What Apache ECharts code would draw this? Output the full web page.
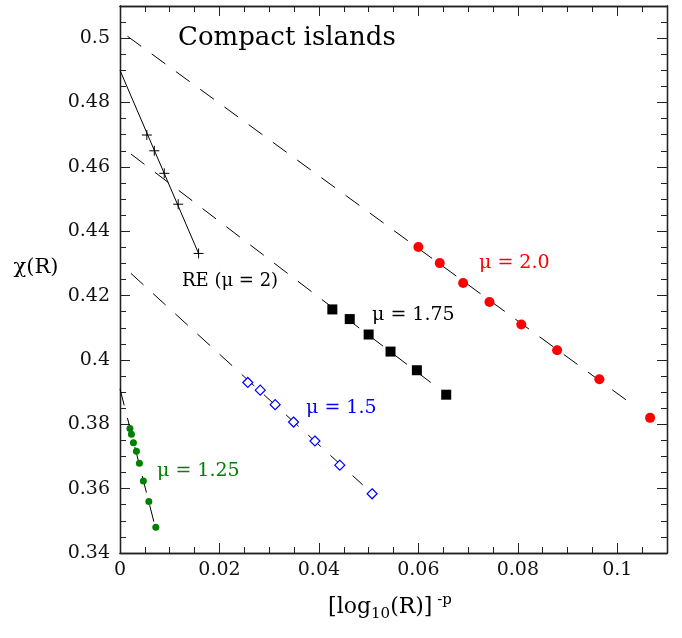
<!DOCTYPE html>
<html>
<head>
<meta charset="utf-8">
<script src="https://cdn.jsdelivr.net/npm/echarts@6/dist/echarts.min.js"></script>
<style>
  html, body { margin: 0; padding: 0; background: #fff; }
  #chart { width: 682px; height: 638px; }
</style>
</head>
<body>
<div id="chart"></div>
<script>
// points
var redX = [0.0600, 0.0643, 0.0690, 0.0743, 0.0807, 0.0879, 0.0964, 0.1066];
var redY = [0.4351, 0.4301, 0.4239, 0.4180, 0.4110, 0.4030, 0.3940, 0.3820];
var blackX = [0.0427, 0.0462, 0.0500, 0.0544, 0.0597, 0.0656];
var blackY = [0.4157, 0.4127, 0.4079, 0.4026, 0.3968, 0.3892];
var blueX = [0.0257, 0.0282, 0.0312, 0.0349, 0.0392, 0.0442, 0.0507];
var blueY = [0.3930, 0.3906, 0.3861, 0.3807, 0.3748, 0.3673, 0.3584];
var greenX = [0.0020, 0.0023, 0.0027, 0.0033, 0.0039, 0.0047, 0.0058, 0.0072];
var greenY = [0.3787, 0.3769, 0.3743, 0.3716, 0.3679, 0.3624, 0.3560, 0.3480];
var reX = [0.0054, 0.0069, 0.0089, 0.0117, 0.0158];
var reY = [0.4699, 0.4650, 0.4580, 0.4484, 0.4331];

// fitted lines, start and end
var fitRed = [[0.0015, 0.5006], [0.103, 0.3862]];
var fit175 = [[0.0022, 0.4640], [0.0635, 0.3918]];
var fit15 = [[0.0022, 0.4269], [0.0488, 0.3612]];
var fit125 = [[0, 0.3910], [0.0071, 0.3480]];
var fitRE = [[0, 0.4900], [0.0158, 0.4331]];

var xMin = 0, xMax = 0.11, yMin = 0.34, yMax = 0.51;

var FONT = '"DejaVu Serif", serif';

function pairs(xs, ys) {
    var out = [];
    for (var i = 0; i < xs.length; i++) out.push([xs[i], ys[i]]);
    return out;
}

// one axis of the box: main (labels, long ticks) or minor (short ticks)
function xAx(pos, step, len, labels) {
    return {
        type: 'value', position: pos, min: xMin, max: xMax, interval: step,
        axisLine: { show: true, onZero: false, lineStyle: { color: '#222', width: 1.3 } },
        axisTick: { show: true, inside: true, length: len, lineStyle: { color: '#222', width: 1 } },
        axisLabel: { show: labels, showMaxLabel: false, margin: 8, color: '#111', fontSize: 19, fontFamily: FONT },
        splitLine: { show: false }
    };
}
function yAx(pos, step, len, labels) {
    return {
        type: 'value', position: pos, min: yMin, max: yMax, interval: step,
        axisLine: { show: true, onZero: false, lineStyle: { color: '#222', width: 1.3 } },
        axisTick: { show: true, inside: true, length: len, lineStyle: { color: '#222', width: 1 } },
        axisLabel: { show: labels, showMaxLabel: false, margin: 10, color: '#111', fontSize: 19, fontFamily: FONT },
        splitLine: { show: false }
    };
}

function fitLine(d, dashed) {
    return {
        type: 'line', data: d, symbol: 'none', z: 2, silent: true,
        lineStyle: { color: '#000', width: 1, type: dashed ? [17, 13] : 'solid' }
    };
}

function dots(d, symbol, size, style) {
    style.opacity = 1;
    return {
        type: 'scatter', data: d, symbol: symbol, symbolSize: size, z: 5,
        itemStyle: style
    };
}

var myChart = echarts.init(document.getElementById('chart'));

var option = {
    animation: false,
    backgroundColor: '#fff',
    grid: { left: 120, right: 15, top: 6, bottom: 85 },
    xAxis: [
        xAx('bottom', 0.02, 10, true),
        xAx('bottom', 0.005, 6, false),
        xAx('top', 0.02, 10, false),
        xAx('top', 0.005, 6, false)
    ],
    yAxis: [
        yAx('left', 0.02, 10, true),
        yAx('left', 0.005, 6, false),
        yAx('right', 0.02, 10, false),
        yAx('right', 0.005, 6, false)
    ],
    series: [
        fitLine(fitRed, true),
        fitLine(fit175, true),
        fitLine(fit15, true),
        fitLine(fit125, true),
        fitLine(fitRE, false),
        dots(pairs(redX, redY), 'circle', 10, { color: '#ff0000' }),
        dots(pairs(blackX, blackY), 'rect', 10, { color: '#000' }),
        dots(pairs(blueX, blueY), 'diamond', 10, { color: '#fff', borderColor: '#0000ff', borderWidth: 1.2 }),
        dots(pairs(greenX, greenY), 'circle', 7, { color: '#008000' }),
        dots(pairs(reX, reY), 'path://M0,5L10,5M5,0L5,10', 10, { color: 'none', borderColor: '#000', borderWidth: 1 })
    ],
    graphic: [
        { type: 'text', x: 178, y: 38, style: { text: 'Compact islands', fontSize: 26, fontFamily: FONT, fill: '#000', align: 'left', verticalAlign: 'middle' } },
        { type: 'text', x: 182, y: 281, style: { text: 'RE (μ = 2)', fontSize: 18, fontFamily: FONT, fill: '#000', align: 'left', verticalAlign: 'middle' } },
        { type: 'text', x: 372, y: 315, style: { text: 'μ = 1.75', fontSize: 19, fontFamily: FONT, fill: '#000', align: 'left', verticalAlign: 'middle' } },
        { type: 'text', x: 479, y: 263, style: { text: 'μ = 2.0', fontSize: 19, fontFamily: FONT, fill: '#ff0000', align: 'left', verticalAlign: 'middle' } },
        { type: 'text', x: 306, y: 408, style: { text: 'μ = 1.5', fontSize: 19, fontFamily: FONT, fill: '#0000ff', align: 'left', verticalAlign: 'middle' } },
        { type: 'text', x: 157, y: 471, style: { text: 'μ = 1.25', fontSize: 19, fontFamily: FONT, fill: '#008000', align: 'left', verticalAlign: 'middle' } },
        // axis names
        { type: 'text', x: 36, y: 268, style: { text: 'χ(R)', fontSize: 21, fontFamily: FONT, fill: '#000', align: 'center', verticalAlign: 'middle' } },
        {
            type: 'text', x: 390, y: 607,
            style: {
                text: '{a|[log}{s|10}{a|(R)]}{p| -p}',
                align: 'center', verticalAlign: 'middle', fill: '#000',
                rich: {
                    a: { fontSize: 22, fontFamily: FONT, fill: '#000' },
                    s: { fontSize: 15, fontFamily: FONT, fill: '#000', padding: [14, 0, 0, 0] },
                    p: { fontSize: 15, fontFamily: FONT, fill: '#000', padding: [0, 0, 14, 0] }
                }
            }
        }
    ]
};

myChart.setOption(option);
</script>
</body>
</html>
